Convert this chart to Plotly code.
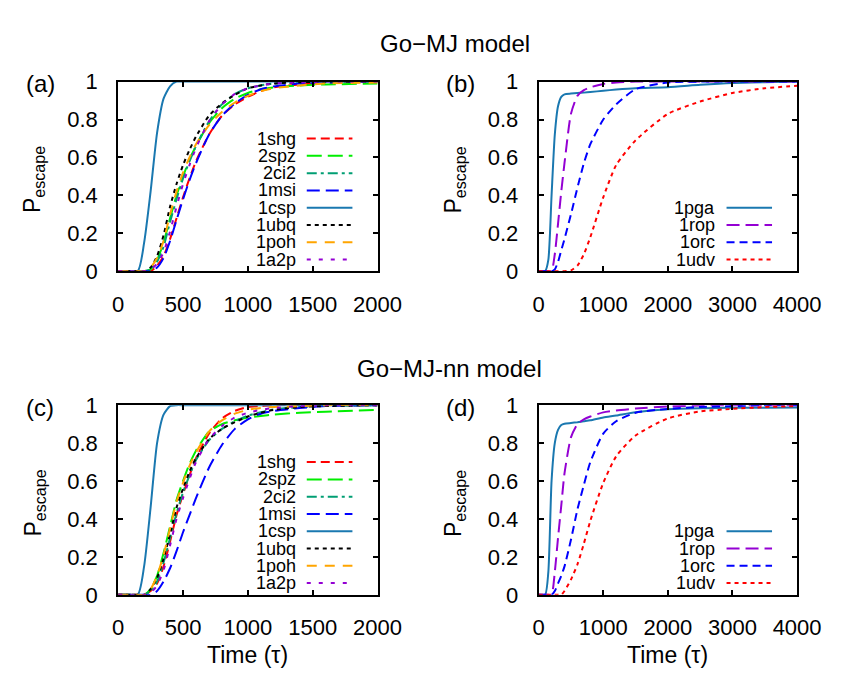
import plotly.graph_objects as go

W, H = 843, 673

# ---------------- data ----------------
t_ac = [0, 150, 200, 250, 300, 350, 400, 450, 500, 550, 600, 700, 800, 900, 1000, 1100, 1200, 1400, 1600, 2000]

a_1shg = [0, 0, 0, 0, 0.03, 0.08, 0.17, 0.28, 0.39, 0.49, 0.58, 0.72, 0.82, 0.88, 0.92, 0.95, 0.97, 0.985, 0.993, 1]
a_2spz = [0, 0, 0, 0.01, 0.06, 0.15, 0.28, 0.40, 0.50, 0.59, 0.66, 0.78, 0.86, 0.91, 0.94, 0.96, 0.97, 0.98, 0.985, 0.99]
a_2ci2 = [0, 0, 0, 0.01, 0.05, 0.13, 0.26, 0.38, 0.49, 0.58, 0.66, 0.79, 0.88, 0.935, 0.965, 0.98, 0.99, 0.995, 1, 1]
a_1msi = [0, 0, 0, 0, 0.02, 0.07, 0.16, 0.27, 0.38, 0.48, 0.57, 0.72, 0.82, 0.885, 0.93, 0.96, 0.975, 0.99, 0.995, 1]
a_1csp = [0, 0, 0.15, 0.42, 0.73, 0.91, 0.975, 1, 1, 1, 1, 1, 1, 1, 1, 1, 1, 1, 1, 1]
a_1ubq = [0, 0, 0, 0.02, 0.08, 0.19, 0.34, 0.46, 0.56, 0.64, 0.71, 0.82, 0.885, 0.93, 0.965, 0.98, 0.99, 0.997, 1, 1]
a_1poh = [0, 0, 0, 0.02, 0.07, 0.16, 0.30, 0.42, 0.52, 0.60, 0.67, 0.77, 0.84, 0.89, 0.925, 0.95, 0.965, 0.98, 0.99, 0.995]
a_1a2p = [0, 0, 0, 0.01, 0.04, 0.10, 0.21, 0.34, 0.46, 0.56, 0.65, 0.79, 0.88, 0.935, 0.965, 0.98, 0.99, 0.995, 1, 1]

c_1shg = [0, 0, 0, 0.02, 0.06, 0.15, 0.28, 0.42, 0.53, 0.63, 0.72, 0.85, 0.93, 0.97, 0.99, 0.995, 1, 1, 1, 1]
c_2spz = [0, 0, 0, 0.03, 0.10, 0.22, 0.36, 0.50, 0.60, 0.69, 0.76, 0.86, 0.90, 0.92, 0.935, 0.943, 0.95, 0.96, 0.965, 0.975]
c_2ci2 = [0, 0, 0, 0.02, 0.07, 0.17, 0.30, 0.43, 0.54, 0.63, 0.71, 0.815, 0.875, 0.915, 0.945, 0.963, 0.977, 0.99, 0.995, 1]
c_1msi = [0, 0, 0, 0, 0.02, 0.07, 0.14, 0.23, 0.33, 0.42, 0.51, 0.67, 0.79, 0.875, 0.925, 0.955, 0.97, 0.985, 0.995, 1]
c_1csp = [0, 0, 0.15, 0.46, 0.80, 0.95, 0.995, 1, 1, 1, 1, 1, 1, 1, 1, 1, 1, 1, 1, 1]
c_1ubq = [0, 0, 0, 0.03, 0.09, 0.19, 0.32, 0.46, 0.56, 0.65, 0.72, 0.82, 0.875, 0.91, 0.94, 0.96, 0.975, 0.99, 0.995, 1]
c_1poh = [0, 0, 0, 0.03, 0.10, 0.21, 0.35, 0.49, 0.59, 0.68, 0.75, 0.86, 0.92, 0.955, 0.975, 0.985, 0.99, 0.995, 1, 1]
c_1a2p = [0, 0, 0, 0.01, 0.05, 0.13, 0.26, 0.40, 0.51, 0.61, 0.70, 0.82, 0.89, 0.935, 0.96, 0.975, 0.985, 0.995, 1, 1]

t_bd = [0, 100, 150, 200, 250, 300, 350, 400, 500, 600, 700, 800, 1000, 1200, 1500, 2000, 2500, 3000, 3500, 4000]

b_1pga = [0, 0, 0.06, 0.40, 0.72, 0.87, 0.92, 0.933, 0.937, 0.94, 0.942, 0.945, 0.952, 0.958, 0.965, 0.97, 0.983, 0.993, 0.997, 1]
b_1rop = [0, 0, 0, 0, 0.09, 0.25, 0.42, 0.57, 0.83, 0.925, 0.955, 0.97, 0.988, 0.995, 1, 1, 1, 1, 1, 1]
b_1orc = [0, 0, 0, 0, 0.01, 0.05, 0.11, 0.17, 0.30, 0.44, 0.57, 0.67, 0.80, 0.88, 0.96, 0.995, 1, 1, 1, 1]
b_1udv = [0, 0, 0, 0, 0, 0, 0, 0, 0.005, 0.03, 0.09, 0.18, 0.39, 0.56, 0.69, 0.83, 0.895, 0.94, 0.965, 0.978]

d_1pga = [0, 0, 0.12, 0.60, 0.80, 0.87, 0.895, 0.902, 0.906, 0.91, 0.915, 0.92, 0.935, 0.945, 0.962, 0.978, 0.984, 0.986, 0.986, 0.987]
d_1rop = [0, 0, 0, 0, 0.12, 0.30, 0.47, 0.64, 0.83, 0.90, 0.925, 0.94, 0.962, 0.972, 0.982, 0.993, 0.998, 1, 1, 1]
d_1orc = [0, 0, 0, 0, 0.02, 0.06, 0.10, 0.15, 0.29, 0.45, 0.58, 0.70, 0.85, 0.915, 0.96, 0.98, 0.99, 0.995, 1, 1]
d_1udv = [0, 0, 0, 0, 0, 0, 0, 0.02, 0.08, 0.16, 0.27, 0.39, 0.59, 0.73, 0.84, 0.93, 0.967, 0.98, 0.99, 0.995]

names_ac = ["1shg", "2spz", "2ci2", "1msi", "1csp", "1ubq", "1poh", "1a2p"]
names_bd = ["1pga", "1rop", "1orc", "1udv"]

x_ticks_ac = [0, 500, 1000, 1500, 2000]
x_ticks_bd = [0, 1000, 2000, 3000, 4000]
y_ticks = [0, 0.2, 0.4, 0.6, 0.8, 1]
y_tick_text = ["0", "0.2", "0.4", "0.6", "0.8", "1"]

# ---------------- styles ----------------
style_ac = {
    "1shg": dict(color="#ff0000", dash="9px,5px"),
    "2spz": dict(color="#00ee00", dash="15px,6px"),
    "2ci2": dict(color="#009e73", dash="10px,4px,3px,4px"),
    "1msi": dict(color="#0000ff", dash="13px,6px"),
    "1csp": dict(color="#1a78b0", dash="solid"),
    "1ubq": dict(color="#000000", dash="4px,4px"),
    "1poh": dict(color="#ffa500", dash="10px,8px"),
    "1a2p": dict(color="#9400d3", dash="4px,8px"),
}
style_bd = {
    "1pga": dict(color="#1a78b0", dash="solid"),
    "1rop": dict(color="#9400d3", dash="13px,6px"),
    "1orc": dict(color="#0000ff", dash="8px,5px"),
    "1udv": dict(color="#ff0000", dash="4px,4px"),
}

FONT = "Liberation Sans, Arial, Helvetica, sans-serif"

fig = go.Figure()

panels = [
    ("x", "y", t_ac, names_ac, [a_1shg, a_2spz, a_2ci2, a_1msi, a_1csp, a_1ubq, a_1poh, a_1a2p], style_ac),
    ("x2", "y2", t_bd, names_bd, [b_1pga, b_1rop, b_1orc, b_1udv], style_bd),
    ("x3", "y3", t_ac, names_ac, [c_1shg, c_2spz, c_2ci2, c_1msi, c_1csp, c_1ubq, c_1poh, c_1a2p], style_ac),
    ("x4", "y4", t_bd, names_bd, [d_1pga, d_1rop, d_1orc, d_1udv], style_bd),
]

shapes = []
annotations = []

for xa, ya, tt, names, series, styles in panels:
    for nm, vals in zip(names, series):
        st = styles[nm]
        fig.add_trace(go.Scatter(
            x=tt, y=vals, mode="lines", name=nm, showlegend=False,
            xaxis=xa, yaxis=ya,
            line=dict(color=st["color"], width=2, dash=st["dash"], shape="spline", smoothing=0.6),
        ))
    # manual legend (text left of sample, gnuplot style)
    n = len(names)
    for i, nm in enumerate(names):
        yy = 0.062 + (n - 1 - i) * 0.0911
        st = styles[nm]
        shapes.append(dict(type="line", xref=f"{xa} domain", yref=f"{ya} domain",
                           x0=0.727, x1=0.903, y0=yy, y1=yy,
                           line=dict(color=st["color"], width=2, dash=st["dash"])))
        annotations.append(dict(text=nm, xref=f"{xa} domain", yref=f"{ya} domain",
                                x=0.688, y=yy, xanchor="right", yanchor="middle",
                                borderpad=0,
                                showarrow=False, font=dict(size=18, color="black", family=FONT)))

def px(x):
    return x / W

def py(y):
    return 1 - y / H

xdom_l = [px(108), px(377)]
xdom_r = [px(544), px(812)]
ydom_t = [py(261), py(64)]
ydom_b = [py(597), py(400)]

axis_common = dict(showline=True, linecolor="black", linewidth=2, mirror="allticks",
                   ticks="inside", ticklen=5, tickwidth=1.5, tickcolor="black",
                   showgrid=False, zeroline=False,
                   tickfont=dict(size=22, color="black", family=FONT))

layout_axes = {}
for i, (xdom, ydom, xr, xt) in enumerate([
        (xdom_l, ydom_t, [0, 2000], x_ticks_ac),
        (xdom_r, ydom_t, [0, 4000], x_ticks_bd),
        (xdom_l, ydom_b, [0, 2000], x_ticks_ac),
        (xdom_r, ydom_b, [0, 4000], x_ticks_bd)]):
    sfx = "" if i == 0 else str(i + 1)
    layout_axes["xaxis" + sfx] = dict(axis_common, domain=xdom, range=xr, tickvals=xt,
                                      ticktext=[str(v) for v in xt],
                                      anchor="y" + sfx, ticklabelstandoff=12)
    layout_axes["yaxis" + sfx] = dict(axis_common, domain=ydom, range=[0, 1], tickvals=y_ticks,
                                      ticktext=y_tick_text,
                                      anchor="x" + sfx, ticklabelstandoff=14)

# titles / labels
def ann(text, x, y, size=23, angle=0):
    annotations.append(dict(text=text, xref="paper", yref="paper", x=px(x), y=py(y),
                            xanchor="center", yanchor="middle", showarrow=False, textangle=angle,
                            font=dict(size=size, color="black", family=FONT)))

ann("Go\u2212MJ model", 457, 24, size=24)
ann("Go\u2212MJ-nn model", 452, 362, size=24)
for lbl, x, y in [("(a)", 27, 66), ("(b)", 463, 66), ("(c)", 27, 402), ("(d)", 463, 402)]:
    ann(lbl, x, y, size=24)
for x, y in [(21, 166), (457, 166), (21, 502), (457, 502)]:
    ann("P<sub>escape</sub>", x, y, size=23, angle=-90)
ann("Time (\u03c4)", 242, 660)
ann("Time (\u03c4)", 678, 660)

fig.update_layout(
    width=W, height=H,
    margin=dict(l=0, r=0, t=0, b=0),
    paper_bgcolor="white", plot_bgcolor="white",
    shapes=shapes, annotations=annotations,
    font=dict(family=FONT, color="black"),
    **layout_axes,
)

fig.write_html("out.html")
